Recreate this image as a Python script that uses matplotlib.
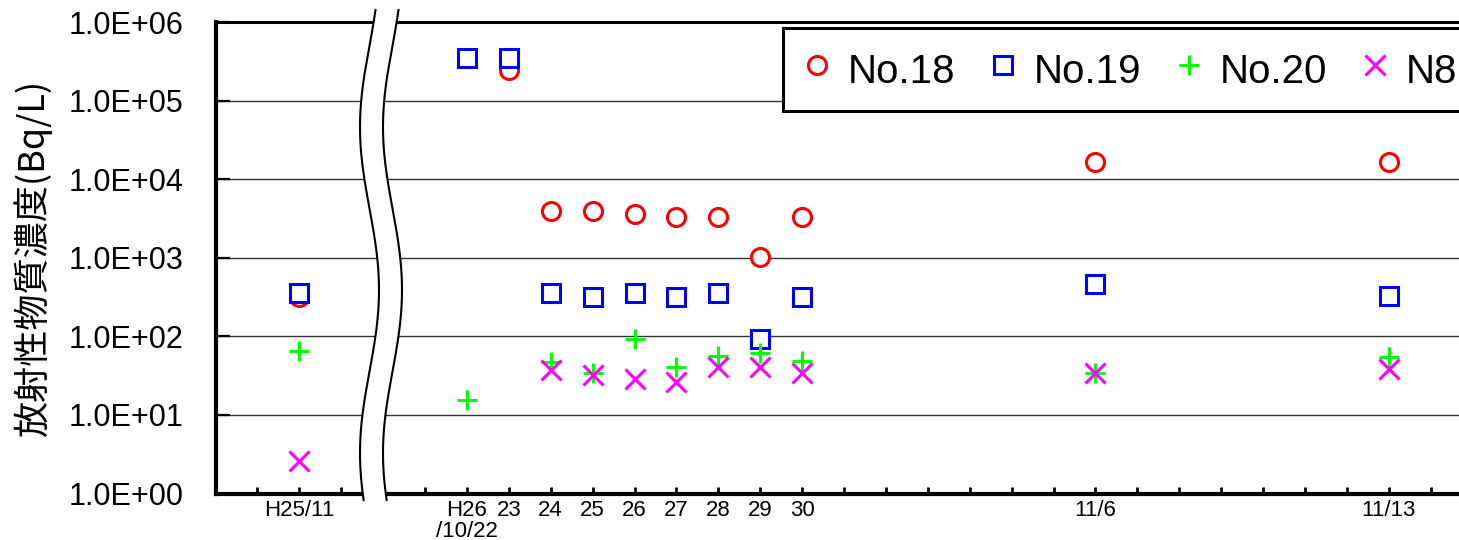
import numpy as np
import pandas as pd
import matplotlib
matplotlib.use("Agg")
import matplotlib.pyplot as plt
from matplotlib.ticker import FixedLocator, NullLocator

plt.rcParams['font.family'] = ['Liberation Sans', 'DejaVu Sans']

# sampling dates: one point from H25/11, then the October/November 2014 series
dates = ['2013-11', '2014-10-22', '2014-10-23', '2014-10-24', '2014-10-25', '2014-10-26',
         '2014-10-27', '2014-10-28', '2014-10-29', '2014-10-30', '2014-11-06', '2014-11-13']
date_labels = ['H25/11', 'H26\n/10/22', '23', '24', '25', '26', '27', '28', '29', '30',
               '11/6', '11/13']

# concentrations (Bq/L)
no18 = [320, np.nan, 2.47e5, 3960, 3960, 3620, 3350, 3350, 1036, 3350, 16500, 16500]
no19 = [354, 3.48e5, 3.48e5, 354, 321, 354, 321, 354, 92.7, 321, 461, 325]
no20 = [65.3, 15.5, np.nan, 46.9, 34.5, 92, 41.2, 56.9, 61, 49.1, 34.5, 54.2]
n8 = [2.6, np.nan, np.nan, 37.4, 32, 28.4, 26.1, 41.2, 41.2, 34.5, 34.5, 38.1]

ytick_vals = [1e0, 1e1, 1e2, 1e3, 1e4, 1e5, 1e6]
ytick_labels = ['1.0E+00', '1.0E+01', '1.0E+02', '1.0E+03', '1.0E+04', '1.0E+05', '1.0E+06']

# x position: the H25 point sits at 0, the 2014 days follow after the axis break
d = pd.to_datetime(dates[1:])
x = [0] + list((d - d[0]).days + 4)

W, H = 1459, 540
fig = plt.figure(figsize=(W / 100, H / 100), dpi=100)
ax = fig.add_axes([215.5 / W, 1 - 493.5 / H, 30 * 41.9 / W, (493.5 - 22.3) / H])

ax.plot(x, no18, ls='none', marker='o', ms=13, mfc='white', mec='#ff0000', mew=2.2,
        label='No.18', zorder=3)
ax.plot(x, no19, ls='none', marker='s', ms=13, mfc='white', mec='#0000ff', mew=2.2,
        label='No.19', zorder=3)
ax.plot(x, no20, ls='none', marker='+', ms=15, mec='#00ff00', mew=2.2,
        label='No.20', zorder=3)
ax.plot(x, n8, ls='none', marker='x', ms=15, mec='#ff00ff', mew=2.2,
        label='N8', zorder=3)

ax.set_yscale('log')
ax.set_ylim(1, 1e6)
ax.set_xlim(-2, 28)
ax.yaxis.set_major_locator(FixedLocator(ytick_vals))
ax.yaxis.set_minor_locator(NullLocator())
ax.set_yticklabels(ytick_labels)
ax.yaxis.grid(True, color='#333333', lw=1.0, zorder=0)
ax.set_axisbelow(True)

# daily ticks, labels only on sampling days
tick_pos = [-1, 0, 1] + list(range(3, 28))
lab = dict(zip(x, date_labels))
ax.xaxis.set_major_locator(FixedLocator(tick_pos))
ax.xaxis.set_minor_locator(NullLocator())
ax.set_xticklabels([lab.get(p, '') for p in tick_pos])
for t in ax.get_xticklabels():
    t.set_linespacing(1.0)

ax.tick_params(axis='y', direction='in', length=10, width=1.6, labelsize=22, pad=23)
ax.tick_params(axis='x', direction='in', length=5, width=2, labelsize=16, pad=5)

ax.spines['right'].set_visible(False)
ax.spines['left'].set_linewidth(3)
ax.spines['bottom'].set_linewidth(3)
ax.spines['top'].set_linewidth(2.2)

ax.set_ylabel('放射性物質濃度(Bq/L)', family=['Noto Sans CJK JP', 'DejaVu Sans'],
              fontsize=26, labelpad=12)

leg = ax.legend(ncol=4, loc='upper left', bbox_to_anchor=(783 / W, 1 - 28 / H),
                bbox_transform=fig.transFigure, borderaxespad=0, fontsize=29,
                frameon=True, fancybox=False, framealpha=1, edgecolor='black',
                borderpad=0.45, handlelength=0.8, handleheight=1.42,
                handletextpad=0.35, columnspacing=0.8)
leg.get_frame().set_linewidth(2.2)
leg.set_zorder(10)

# wavy break mark across the axis
yy = np.linspace(10, 500, 200)
xl = 369.5 - 9.5 * np.cos(np.pi * (yy - 127) / 163)
xr = xl + 23
fy = 1 - yy / H
ax.fill_betweenx(fy, xl / W, xr / W, color='white', transform=fig.transFigure,
                 clip_on=False, zorder=5, lw=0)
ax.plot(xl / W, fy, color='black', lw=1.5, transform=fig.transFigure, clip_on=False, zorder=6)
ax.plot(xr / W, fy, color='black', lw=1.5, transform=fig.transFigure, clip_on=False, zorder=6)

fig.savefig('out.png', dpi=100)
